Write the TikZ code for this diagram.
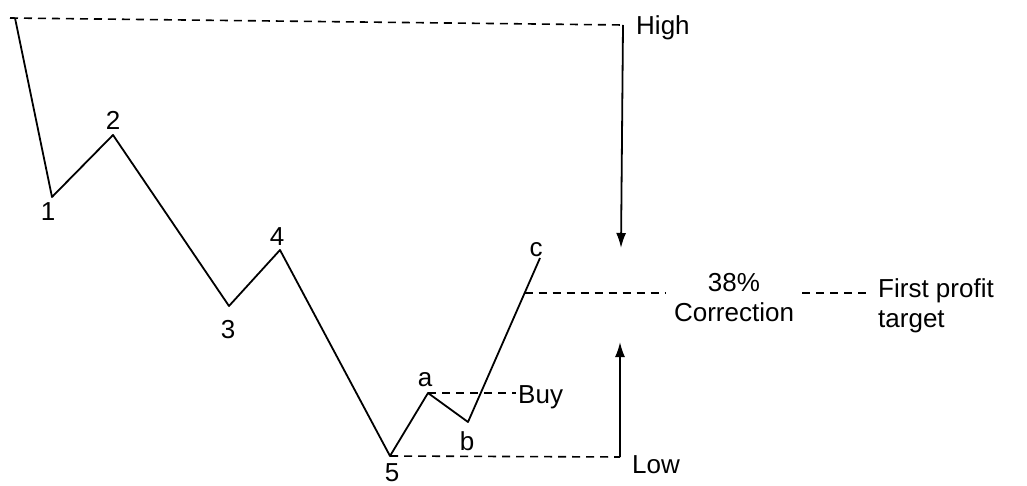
\documentclass[tikz,border=0pt]{standalone}
\usepackage{fontspec}
\setmainfont{Liberation Sans}
\usetikzlibrary{arrows.meta,calc}
\begin{document}
\begin{tikzpicture}[x=1pt,y=-1pt,
  wave/.style={line width=1.8pt,line join=round},
  guide/.style={line width=1.6pt,dash pattern=on 8pt off 6pt},
  arrowline/.style={line width=1.8pt,-{Latex[length=15pt,width=10pt]}},
  lbl/.style={font=\fontsize{26}{30}\selectfont,inner sep=1pt},
  txt/.style={font=\fontsize{26}{30}\selectfont,inner sep=2pt}]
\useasboundingbox (0,0) rectangle (1027,486);
% wave points
\coordinate (p0) at (15,18);
\coordinate (p1) at (52,197);
\coordinate (p2) at (113,135);
\coordinate (p3) at (229,306);
\coordinate (p4) at (280,250);
\coordinate (p5) at (390,456);
\coordinate (pa) at (428,393);
\coordinate (pb) at (468,422);
\coordinate (pc) at (540,258);
\coordinate (p38) at ($(pb)!0.787!(pc)$);
\coordinate (hend) at (623,25);
\coordinate (hstart) at (10,18);
\coordinate (harr) at (621,248);
\coordinate (lend) at (620,457);
\coordinate (larr) at (620,342);
% labels
\node[lbl] (n1) at (48,212) {1};
\node[lbl] (n2) at (113,120) {2};
\node[lbl] (n3) at (228,330) {3};
\node[lbl] (n4) at (277,237) {4};
\node[lbl] (n5) at (392,473) {5};
\node[lbl] (na) at (425,380) {a};
\node[lbl] (nb) at (467,441) {b};
\node[lbl] (nc) at (536,250) {c};
\node[txt,anchor=west] (high) at (634,28) {High};
\node[txt,anchor=west] (low) at (630,465) {Low};
\node[txt,anchor=west] (buy) at (516,397) {Buy};
\node[txt,align=center,inner sep=8pt] (corr) at (734,298) {38\%\\Correction};
\node[txt,align=left,anchor=west,inner sep=10pt] (fpt) at (868,306) {First profit\\target};
% wave
\draw[wave] (p0) -- (p1) -- (p2) -- (p3) -- (p4) -- (p5) -- (pa) -- (pb) -- (pc);
% guides
\draw[guide] (hstart) -- (hend);
\draw[arrowline] (hend) -- (harr);
\draw[guide] (p5) -- (lend);
\draw[arrowline] (lend) -- (larr);
\draw[guide] (pa) -- (pa -| buy.west);
\draw[guide] (p38) -- (p38 -| corr.west);
\draw[guide] (corr.east |- p38) -- (fpt.west |- p38);
\end{tikzpicture}
\end{document}
